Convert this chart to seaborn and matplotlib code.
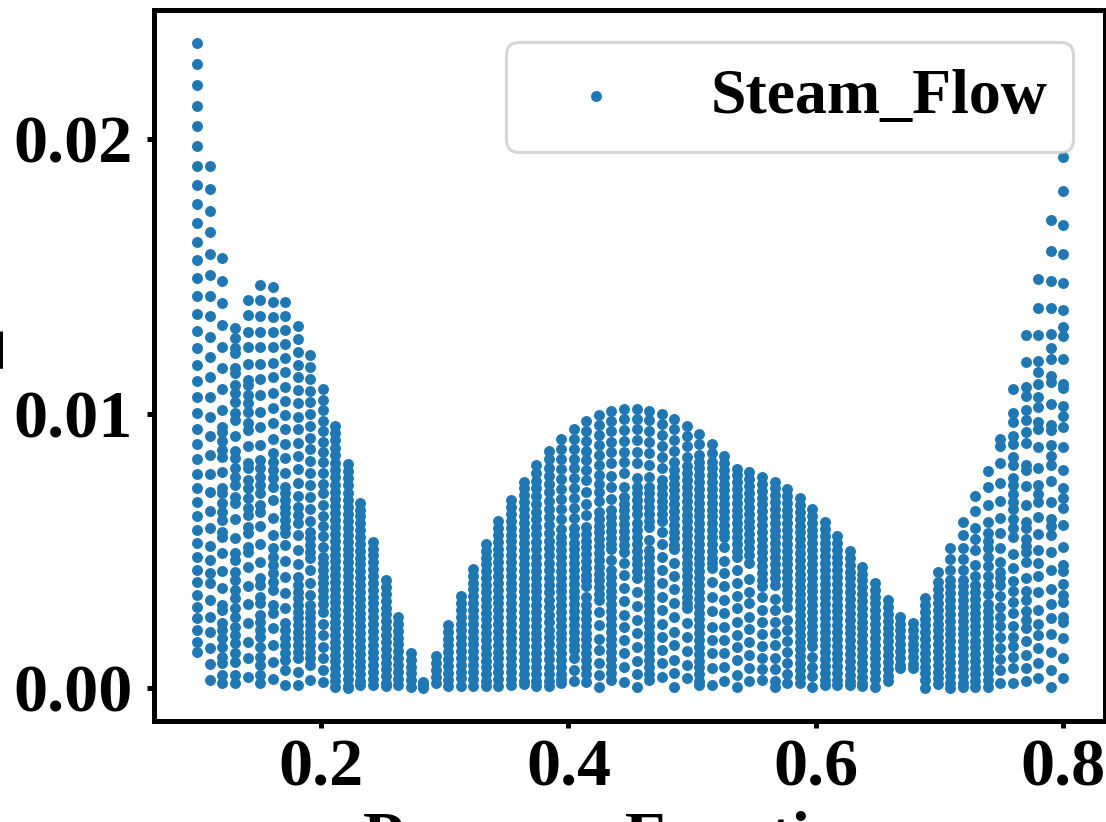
import matplotlib
matplotlib.use('Agg')
import matplotlib.pyplot as plt
import pandas as pd
import seaborn as sns

# x values, one per column of dots
pressure_fraction = [
    0.1000, 0.1101, 0.1203, 0.1304, 0.1406, 0.1507, 0.1609, 0.1710, 0.1812, 0.1913,
    0.2014, 0.2116, 0.2217, 0.2319, 0.2420, 0.2522, 0.2623, 0.2725, 0.2826, 0.2928,
    0.3029, 0.3130, 0.3232, 0.3333, 0.3435, 0.3536, 0.3638, 0.3739, 0.3841, 0.3942,
    0.4043, 0.4145, 0.4246, 0.4348, 0.4449, 0.4551, 0.4652, 0.4754, 0.4855, 0.4957,
    0.5058, 0.5159, 0.5261, 0.5362, 0.5464, 0.5565, 0.5667, 0.5768, 0.5870, 0.5971,
    0.6072, 0.6174, 0.6275, 0.6377, 0.6478, 0.6580, 0.6681, 0.6783, 0.6884, 0.6986,
    0.7087, 0.7188, 0.7290, 0.7391, 0.7493, 0.7594, 0.7696, 0.7797, 0.7899, 0.8000,
]

# steam flow read per column, in units of 1e-4
steam_flow = [
    [235.1, 227.3, 219.7, 212.1, 204.7, 197.3, 190.2, 183.1, 176.2, 169.3, 162.5, 155.8, 149.3, 142.7, 136.4, 130, 123.9, 117.7, 111.8, 106, 100.2, 94.5, 89, 83.4, 78.1, 72.9, 67.7, 62.7, 57.6, 52.7, 47.8, 43.1, 38.6, 34, 29.6, 25.4, 21.1, 16.9, 13],
    [190, 181.9, 173.9, 166, 158.1, 150.5, 142.9, 135.4, 127.9, 120.7, 113.3, 106, 98.8, 91.8, 84.9, 78.1, 71.3, 64.6, 58.2, 51.8, 46.6, 41.8, 38.1, 32.1, 26, 20.3, 14.5, 8.7, 2.9],
    [156.5, 148.4, 140.4, 132.4, 124.3, 116.7, 108.9, 101.3, 95.2, 93.4, 90, 86.7, 84.3, 78.8, 72.8, 70.9, 67.3, 64.2, 61.2, 56.9, 55.1, 49.3, 42.7, 36.3, 30.2, 28.4, 23.6, 21.1, 18.1, 15, 11.4, 9, 4.7, 1.7],
    [131, 127.6, 123.8, 121.9, 116.5, 114.6, 110.4, 107.4, 104.3, 100.1, 97.6, 91.8, 86.4, 83.7, 80, 77, 74, 69.7, 67.3, 61.5, 54.6, 49.1, 46.6, 42.4, 39.3, 35.7, 32.7, 29, 26, 22.3, 19.3, 16.3, 12.6, 9.6, 4.7, 1.7],
    [141.5, 135.8, 129.8, 124.1, 118, 112.2, 110.4, 106.7, 103.7, 100.7, 96.4, 94, 88.2, 81.9, 80, 75.8, 72.8, 69.1, 65.5, 63, 58.8, 56.4, 51.5, 49.7, 44, 37.2, 30.5, 23.6, 16.9, 10.8, 4.1],
    [146.8, 141.2, 135.5, 129.8, 124.1, 118, 112.5, 106.7, 100.7, 95, 88.5, 83.1, 80, 77, 74, 70.9, 66.7, 64.2, 59.1, 52.5, 46, 40, 37.5, 33.3, 30.9, 26.6, 24.2, 21.1, 18.7, 15, 11.4, 8.4, 4.7, 1.7],
    [146, 140.5, 135.2, 129.6, 124.1, 118.5, 113.2, 107.6, 101.9, 96.4, 90.7, 85.5, 82.4, 79.4, 76.4, 73.3, 68.5, 62, 55.7, 50.9, 47.8, 44.8, 41.8, 38.7, 35.7, 30.2, 27.2, 21.7, 15.7, 9.6, 3.2],
    [140.5, 135.5, 130.3, 125.2, 120.1, 115, 109.8, 104.7, 99.5, 94.2, 88.9, 83.7, 78.4, 73.3, 70.9, 68.5, 66, 63.6, 61.2, 58.8, 56.4, 52, 46.2, 40.3, 34.7, 29, 23.6, 21.1, 18.1, 15.7, 12.6, 10.2, 6.6, 1.1],
    [131.9, 127.1, 122.5, 117.7, 113.2, 108.6, 103.7, 98.8, 94.2, 89.4, 84.5, 79.7, 74.8, 69.9, 66, 63, 60, 55.7, 50.3, 45.2, 40.5, 37.5, 35.1, 32.7, 30.2, 27.8, 25.4, 23, 20.5, 18.1, 15.7, 13.2, 10.8, 5.9, 1.1],
    [121.3, 117, 112.6, 108.3, 104.1, 99.8, 95.4, 91.2, 87, 82.7, 78.2, 74, 69.5, 65.1, 60.7, 56.9, 54.5, 52.1, 49.7, 47.2, 43, 38.4, 33.9, 30.2, 27.8, 25.4, 23, 20.5, 18.1, 15.7, 13.2, 10.8, 8.4, 2.9],
    [108.8, 105.1, 101.3, 97.4, 93.6, 89.7, 86, 82.4, 78.2, 74.5, 70.9, 66.7, 62.8, 59.2, 55.2, 51.3, 47.8, 45.4, 43, 40.5, 38.1, 35.7, 33.3, 30.5, 27.8, 23.3, 19.3, 15, 10.8, 6.6, 2.3],
    [95.5, 92.9, 90.2, 87.5, 84.8, 82.1, 79.4, 76.8, 74.1, 71.5, 68.9, 66.3, 63.7, 61.1, 58.6, 56.1, 53.6, 51.1, 48.6, 46.1, 43.6, 41.1, 38.6, 36.1, 33.7, 31.3, 28.9, 26.5, 24.1, 21.7, 19.3, 16.9, 14.5, 12.1, 9.7, 7.3, 4.9, 2.5, 0.3],
    [81.6, 79, 76.4, 73.8, 71.2, 68.6, 66, 63.4, 60.8, 58.3, 55.8, 53.3, 50.8, 48.3, 45.8, 43.3, 40.8, 38.3, 35.8, 33.3, 30.8, 28.3, 25.8, 23.3, 20.8, 18.3, 15.8, 13.3, 10.8, 8.3, 5.8, 3.3, 0.8, 0],
    [67.5, 65, 62.5, 60, 57.5, 55, 52.5, 50, 47.5, 45, 42.5, 40, 37.5, 35, 32.5, 30, 27.5, 25, 22.5, 20, 17.5, 15, 12.5, 10, 7.5, 5, 2.5, 1],
    [53.3, 50.8, 48.3, 45.8, 43.3, 40.8, 38.3, 35.8, 33.3, 30.8, 28.3, 25.8, 23.3, 20.8, 18.3, 15.8, 13.3, 10.8, 8.3, 5.8, 3.3, 1.2],
    [39.3, 36.8, 34.3, 31.8, 29.3, 26.8, 24.3, 21.8, 19.3, 16.8, 14.3, 11.8, 9.3, 6.8, 4.3, 1.8, 0.6],
    [25.9, 23.4, 20.9, 18.4, 15.9, 13.4, 10.9, 8.4, 5.9, 3.4, 1.2],
    [12.8, 10.3, 7.8, 5.3, 2.8, 0.5],
    [2.2, 1.1, 0],
    [11.7, 9.2, 6.7, 4.2, 1.8],
    [23, 20.5, 18, 15.5, 13, 10.5, 8, 5.5, 3, 0.6],
    [33.5, 31, 28.5, 26, 23.5, 21, 18.5, 16, 13.5, 11, 8.5, 6, 3.5, 0.6],
    [43.4, 40.9, 38.4, 35.9, 33.4, 30.9, 28.4, 25.9, 23.4, 20.9, 18.4, 15.9, 13.4, 10.9, 8.4, 5.9, 3.4, 0.6],
    [52.5, 50, 47.5, 45, 42.5, 40, 37.5, 35, 32.5, 30, 27.5, 25, 22.5, 20, 17.5, 15, 12.5, 10, 7.5, 5, 2.5, 0.6],
    [60.8, 58.3, 55.8, 53.3, 50.8, 48.3, 45.8, 43.3, 40.8, 38.3, 35.8, 33.3, 30.8, 28.3, 25.8, 23.3, 20.8, 18.3, 15.8, 13.3, 10.8, 8.3, 5.8, 3.3, 0.9],
    [68.4, 65.9, 63.4, 60.9, 58.4, 55.9, 53.4, 50.9, 48.4, 45.9, 43.4, 40.9, 38.4, 35.9, 33.4, 30.9, 28.4, 25.9, 23.4, 20.9, 18.4, 15.9, 13.4, 10.9, 8.4, 5.9, 3.4, 1.2],
    [75.2, 72.7, 70.2, 67.7, 65.2, 62.7, 60.2, 57.7, 55.2, 52.7, 50.2, 47.7, 45.2, 42.7, 40.2, 37.7, 35.2, 32.7, 30.2, 27.7, 25.2, 22.7, 20.2, 17.7, 15.2, 12.7, 10.2, 7.7, 5.2, 2.7, 1.5],
    [81.1, 78.3, 75.5, 72.7, 69.9, 67.1, 64.3, 61.5, 58.7, 56, 53.3, 50.6, 47.9, 45.2, 42.7, 40.2, 37.7, 35.2, 32.7, 30.2, 27.7, 25.2, 22.7, 20.2, 17.7, 15.2, 12.7, 10.2, 7.7, 5.2, 2.7, 0.6],
    [86.3, 83.3, 80.3, 77.3, 74.3, 71.3, 68.3, 65.3, 62.3, 59.3, 56.5, 53.7, 51, 48.3, 45.6, 42.9, 40.2, 37.5, 34.8, 32.1, 29.4, 26.7, 24, 21.3, 18.6, 15.9, 13.2, 10.5, 7.8, 5.1, 2.4, 0.9],
    [90.7, 87.1, 83.4, 79.8, 76.2, 72.5, 68.9, 65.3, 61.6, 58, 55, 52.7, 50.2, 47.7, 45.2, 42.7, 40.2, 37.7, 35.2, 32.7, 30.2, 27.7, 25.2, 22.7, 20.2, 17.7, 15.2, 12.7, 10.2, 7.7, 5.2, 3.2, 1.8],
    [94.4, 90.8, 87.2, 83.6, 80, 76.4, 72.8, 69.2, 65.6, 62, 58.4, 55.7, 53, 50.5, 48, 45.5, 43, 40.5, 38, 35.5, 33, 30.5, 28, 25.5, 23, 20.5, 18, 15.5, 14, 10.9, 6.6, 2.4],
    [97.3, 93.7, 90.1, 86.5, 82.9, 79.3, 75.7, 71.5, 67.2, 63, 58.7, 56.2, 53.7, 51.2, 48.7, 46.2, 43.7, 41.2, 39.3, 37.1, 33.3, 30.2, 27.7, 25.2, 22.7, 20.2, 17.7, 15.2, 12.7, 10.2, 7.7, 5.2, 2.3],
    [99.5, 95.8, 92.2, 88.6, 85, 81.3, 77.7, 74.5, 71.5, 68.1, 64.2, 61.7, 59.2, 56.7, 54.2, 51.7, 49.2, 46.7, 44.2, 41.7, 39.2, 36.7, 34.2, 32, 27.8, 22.9, 18, 13.8, 9.2, 4.7, 0.2],
    [101, 97.3, 93.5, 89.8, 85.9, 81.9, 77.3, 73.2, 68.8, 64.8, 62.3, 59.8, 57.3, 54.8, 52.3, 50.5, 46.6, 43, 40.5, 38, 35.5, 33, 30.5, 28, 25.5, 23, 20.5, 18, 15.5, 13, 10.5, 8, 5.5, 2.9],
    [101.7, 97.9, 94, 90.1, 86.1, 82.3, 78.2, 73.4, 69.7, 67.2, 64.7, 62.2, 59.7, 57.2, 54.7, 52.2, 49.5, 45.6, 41.1, 36.3, 31.8, 26.6, 22.3, 17.5, 12.6, 7.8, 2.3],
    [101.7, 98, 94.3, 90.4, 86.1, 81.9, 76.4, 73.4, 71, 68.5, 66, 63.5, 60, 57.5, 55, 52.5, 50, 47.5, 45, 42.5, 40, 35.1, 29.9, 24.8, 19.9, 14.8, 9.9, 5.1, 0.2],
    [101, 97.7, 93.8, 89.8, 85.5, 81.3, 76.8, 73.4, 71, 68.5, 66, 63.5, 61, 58.8, 54.1, 50.2, 47.7, 45.2, 42.7, 40.2, 37.7, 35.2, 32.7, 30.2, 27.7, 25.2, 22.7, 20.2, 17.7, 15.2, 12.7, 10.2, 7.7, 5.2, 2.9],
    [99.9, 96.2, 92.2, 88.2, 84.3, 80.1, 75.8, 73.3, 70.8, 68.3, 65.8, 63.3, 60.8, 56.9, 52.4, 47.8, 43, 38.1, 33.3, 28.4, 23.5, 18.7, 13.8, 9, 4.1],
    [97.9, 94.4, 90.4, 86.5, 82.5, 79.5, 77, 74.5, 72, 69.5, 67, 64.5, 62, 59.5, 57, 54.5, 52, 50.5, 45.6, 40.8, 35.9, 31.1, 25.7, 20.5, 15.7, 10.2, 5.3, 0.2],
    [95.5, 91.8, 88, 84.3, 80.7, 78.2, 75.7, 73.2, 70.7, 68.2, 65.7, 63.2, 60.7, 58.2, 55.7, 53.2, 50.7, 48.2, 45.7, 43.2, 40.7, 38.2, 35.7, 33.2, 31, 29, 23.8, 18.7, 13.6, 8.4, 3.5],
    [92.5, 88.9, 84.9, 82.5, 80, 77.5, 75, 72.5, 70, 67.5, 65, 62.5, 60, 57.5, 55, 52.5, 50, 47.5, 45, 42.5, 40, 37.5, 35, 32.5, 30, 27.5, 25, 22.5, 20, 17.5, 15, 12.5, 10, 7.5, 5, 2.5, 1.1],
    [88.8, 85.5, 82.5, 80, 77.5, 75, 72.5, 70, 67.5, 65, 62.5, 60, 57.5, 55, 52.5, 50, 47.5, 45.5, 43.6, 38.8, 33.3, 27.9, 22.4, 17.6, 12.7, 7.2, 1.2],
    [84.7, 82, 79.5, 77, 74.5, 72, 69.5, 67, 64.5, 62, 59.5, 57, 55, 51.5, 46.1, 41.8, 37, 32.1, 27.5, 22.4, 17.6, 12.7, 7.8, 2.6],
    [79.9, 77.5, 75, 72.5, 70, 67.5, 65, 62.5, 60, 57.5, 55, 52.5, 50, 47.9, 43, 38.4, 33.6, 29.1, 24.2, 19.4, 14.9, 10.3, 4.8, 0.2],
    [78.7, 76, 73.5, 71, 68.5, 66, 63.5, 61, 58.5, 56, 53.5, 51, 48.5, 45.5, 39.6, 35.1, 30.9, 26, 21.4, 16.9, 12.1, 7.2, 2.4],
    [76.9, 74.4, 71.9, 69.4, 66.9, 64.4, 61.9, 59.4, 56.9, 54.4, 51.9, 49.4, 46.9, 44.4, 41.9, 39.4, 37, 33, 28.5, 24, 19.7, 15.3, 11, 7, 3],
    [75.2, 72.7, 70.2, 67.7, 65.2, 62.7, 60.2, 57.7, 55.2, 52.7, 50.2, 47.7, 45.2, 42.7, 40.2, 37.7, 32.5, 28.5, 24, 20, 15.5, 11, 7, 2.5, 0.5],
    [72.5, 70, 67.5, 65, 62.5, 60, 57.5, 55, 52.5, 50, 47.5, 45, 42.5, 40, 37.5, 35, 32.5, 29.4, 24.7, 21.3, 17.3, 13.2, 9.2, 5.1, 1.8],
    [69.2, 66.7, 64.2, 61.7, 59.2, 56.7, 54.2, 51.7, 49.2, 46.7, 44.2, 41.7, 39.2, 36.7, 34.2, 31.7, 29.2, 26.7, 24.2, 21.7, 19.2, 16.7, 14.2, 11.7, 9.2, 6.7, 4.2, 1.7],
    [65.2, 62.7, 60.2, 57.7, 55.2, 52.7, 50.2, 47.7, 45.2, 42.7, 40.2, 37.7, 35.2, 32.7, 30.2, 27.7, 25.2, 22.7, 20.2, 17.7, 15.2, 11.2, 7.7, 4.3, 0.4],
    [60.5, 58, 55.5, 53, 50.5, 48, 45.5, 43, 40.5, 38, 35.5, 33, 30.5, 28, 25.5, 23, 20.5, 18, 15.5, 13, 10.5, 8, 5.5, 3, 1],
    [55.4, 52.9, 50.4, 47.9, 45.4, 42.9, 40.4, 37.9, 35.4, 32.9, 30.4, 27.9, 25.4, 22.9, 20.4, 17.9, 15.4, 12.9, 10.4, 7.9, 5.4, 2.9, 1],
    [49.9, 47.4, 44.9, 42.4, 39.9, 37.4, 34.9, 32.4, 29.9, 27.4, 24.9, 22.4, 19.9, 17.4, 14.9, 12.4, 9.9, 7.4, 4.9, 2.4, 1],
    [44.2, 41.7, 39.2, 36.7, 34.2, 31.7, 29.2, 26.7, 24.2, 21.7, 19.2, 16.7, 14.2, 11.7, 9.2, 6.7, 4.2, 1.7, 0.8],
    [38.3, 35.8, 33.3, 30.8, 28.3, 25.8, 23.3, 20.8, 18.3, 15.8, 13.3, 10.8, 8.3, 5.8, 3.3, 0.4],
    [32, 29.5, 27, 24.5, 22, 19.5, 17, 14.5, 12, 9.5, 7, 4.5, 2.5],
    [26, 23.5, 21, 18.5, 16, 13.5, 11, 8.5, 7.2],
    [23.7, 21.2, 18.7, 16.2, 13.7, 11.2, 8.7, 7.2],
    [32.8, 30.3, 27.8, 25.3, 22.8, 20.3, 17.8, 15.3, 12.8, 10.3, 7.8, 5.3, 2.8, 0],
    [42.3, 38.6, 36, 33.5, 31, 28.5, 26, 23.5, 21, 18.5, 16, 13.5, 11, 8.5, 6, 3.5, 1.5],
    [51, 47, 42.9, 39.5, 37, 34.5, 32, 29.5, 27, 24.5, 22, 19.5, 17, 14.5, 12, 9.5, 7, 4.5, 2, 0],
    [60.4, 55.7, 51, 46.9, 42.9, 39.5, 37, 34.5, 32, 29.5, 27, 24.5, 22, 19.5, 17, 14.5, 12, 9.5, 7, 4.5, 2, 0.3],
    [69.8, 64.4, 58.4, 54.4, 50.3, 44.9, 40.9, 37.5, 35, 32.5, 30, 27.4, 25, 22.5, 20, 17.3, 15, 12.5, 10, 7.2, 5, 2.5, 0.4],
    [79, 73.2, 66.5, 60.4, 56.4, 53.7, 51, 47.6, 44.3, 40.9, 37.5, 34.1, 30.7, 28, 25.5, 23, 20.5, 18, 15.5, 13, 10.5, 8, 5.5, 3, 0.4],
    [90.7, 88, 82, 74.6, 68.2, 62.1, 56.4, 51, 45.9, 42.2, 40.2, 37.5, 33.5, 29.4, 26, 22.7, 18.6, 14.6, 10.6, 6.5, 1.8],
    [108.9, 100.2, 96.8, 91.7, 89, 84, 81.3, 76.6, 73.9, 70.5, 67.8, 65.1, 61.7, 58.4, 55, 49, 43.6, 38.9, 35.5, 31.5, 27.4, 22.7, 18.6, 15.3, 11.2, 7.2, 1.8],
    [128.5, 118.7, 109.6, 106.5, 101.1, 97.5, 93.4, 89.4, 81.3, 79.3, 73.5, 66.7, 60.4, 58.4, 54.4, 51.7, 49.6, 45.9, 40.2, 35.5, 32.1, 28.1, 24.7, 22, 17, 12.2, 7.2, 2.5],
    [149, 138.3, 128.5, 119, 115, 110.6, 106, 102.5, 96.8, 94.4, 87.8, 80, 73.9, 70.5, 67.8, 62.4, 56.1, 50.3, 45.6, 40.9, 34.8, 28.5, 23.4, 19.3, 14.6, 9.2, 3.8],
    [170.5, 159.1, 148.3, 138.3, 128.9, 123.8, 120, 113.7, 111.6, 103.5, 95.9, 93.9, 88.4, 84.7, 81.4, 75.3, 67.8, 61.7, 59, 55.7, 49.6, 42.9, 36.2, 30.7, 25.4, 19.7, 13, 6.5, 0.4],
    [193.4, 181, 168.7, 158, 147.4, 137.6, 131.5, 128.4, 120, 110.8, 109.3, 102.8, 99.1, 95, 87.9, 79.5, 72.7, 69.3, 65.7, 59.5, 51.5, 44.7, 42.7, 38, 33.9, 31.2, 25.8, 24.2, 18.4, 11, 3.5],
]

rows = []
for x_val, col in zip(pressure_fraction, steam_flow):
    for val in col:
        rows.append((x_val, val * 1e-4))
df = pd.DataFrame(rows, columns=['x', 'y'])

sns.set_style('ticks')
plt.rcParams['font.family'] = ['Liberation Serif', 'DejaVu Serif']
plt.rcParams['font.weight'] = 'bold'
plt.rcParams['text.color'] = 'black'
plt.rcParams['axes.labelcolor'] = 'black'
plt.rcParams['xtick.color'] = 'black'
plt.rcParams['ytick.color'] = 'black'

fig = plt.figure(figsize=(11.06, 8.22), dpi=100)
ax = fig.add_axes([153.5 / 1106, (822 - 720.7) / 822, (1105 - 153.5) / 1106, (720.7 - 10.5) / 822])

sns.scatterplot(data=df, x='x', y='y', s=62, linewidth=0, color='#1f77b4',
                label='Steam_Flow', ax=ax)

ax.set_xlim(0.0646, 0.8338)
ax.set_ylim(-0.00119, 0.02468)
ax.set_xticks([0.2, 0.4, 0.6, 0.8])
ax.set_yticks([0.00, 0.01, 0.02])
ax.set_xticklabels(['0.2', '0.4', '0.6', '0.8'])
ax.set_yticklabels(['0.00', '0.01', '0.02'])
ax.tick_params(length=5, width=3.6, labelsize=49)
ax.tick_params(axis='x', pad=8)
ax.tick_params(axis='y', pad=10)
for spine in ax.spines.values():
    spine.set_linewidth(3.6)
    spine.set_color('black')

ax.set_xlabel('Pressure Function', fontsize=48, fontweight='bold')
ax.set_ylabel('Steam_Flow', fontsize=52, fontweight='bold')
ax.xaxis.set_label_coords(0.4916, -0.127)
ax.yaxis.set_label_coords(-0.156, 0.5)

leg = ax.legend(loc='upper right', fontsize=46, frameon=True, framealpha=0.8, fancybox=True)
leg.get_frame().set_linewidth(2.2)
leg.get_frame().set_edgecolor('0.8')

fig.savefig('out.png', dpi=100)
